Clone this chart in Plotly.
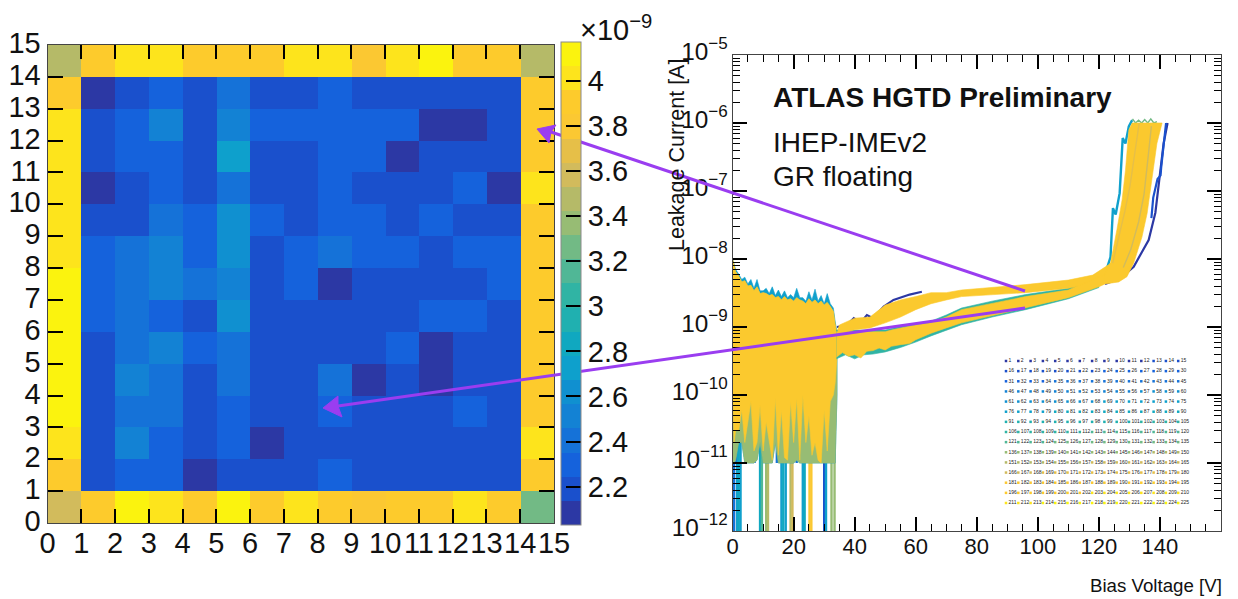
import plotly.graph_objects as go

# ---------- left panel: leakage current map, units of 1e-9 A, row 0 at the bottom ----------
map_row_00 = [3.6, 3.9, 4.1, 4.0, 3.9, 4.1, 3.9, 4.0, 3.9, 3.75, 3.9, 3.9, 4.0, 3.9, 3.3]
map_row_01 = [3.9, 2.2, 2.3, 2.3, 2.1, 2.2, 2.2, 2.2, 2.3, 2.2, 2.2, 2.2, 2.2, 2.2, 3.9]
map_row_02 = [4.0, 2.2, 2.5, 2.3, 2.2, 2.3, 2.1, 2.2, 2.2, 2.2, 2.2, 2.2, 2.2, 2.2, 4.0]
map_row_03 = [4.1, 2.2, 2.4, 2.4, 2.2, 2.3, 2.2, 2.2, 2.3, 2.2, 2.2, 2.2, 2.3, 2.2, 3.9]
map_row_04 = [4.1, 2.2, 2.5, 2.4, 2.2, 2.4, 2.2, 2.2, 2.4, 2.1, 2.2, 2.1, 2.2, 2.2, 3.9]
map_row_05 = [4.1, 2.2, 2.4, 2.5, 2.3, 2.4, 2.2, 2.2, 2.2, 2.2, 2.3, 2.1, 2.2, 2.2, 3.9]
map_row_06 = [4.1, 2.3, 2.4, 2.3, 2.2, 2.6, 2.2, 2.2, 2.2, 2.2, 2.2, 2.3, 2.3, 2.2, 3.9]
map_row_07 = [4.1, 2.3, 2.4, 2.5, 2.4, 2.5, 2.2, 2.3, 2.1, 2.2, 2.2, 2.2, 2.2, 2.3, 3.9]
map_row_08 = [4.0, 2.3, 2.4, 2.5, 2.3, 2.6, 2.2, 2.3, 2.4, 2.3, 2.3, 2.2, 2.3, 2.3, 3.9]
map_row_09 = [4.0, 2.2, 2.2, 2.4, 2.3, 2.6, 2.3, 2.2, 2.3, 2.3, 2.2, 2.3, 2.2, 2.2, 3.9]
map_row_10 = [4.0, 2.1, 2.2, 2.3, 2.2, 2.4, 2.2, 2.2, 2.3, 2.2, 2.2, 2.2, 2.3, 2.1, 4.0]
map_row_11 = [4.0, 2.2, 2.3, 2.3, 2.2, 2.75, 2.2, 2.2, 2.3, 2.3, 2.1, 2.2, 2.2, 2.2, 3.9]
map_row_12 = [4.0, 2.2, 2.3, 2.5, 2.2, 2.5, 2.3, 2.3, 2.3, 2.3, 2.3, 2.1, 2.1, 2.2, 3.9]
map_row_13 = [3.9, 2.1, 2.2, 2.3, 2.2, 2.4, 2.2, 2.2, 2.3, 2.2, 2.2, 2.2, 2.2, 2.2, 3.9]
map_row_14 = [3.48, 3.9, 4.0, 4.0, 3.9, 3.9, 3.9, 4.0, 4.0, 3.75, 4.0, 4.1, 3.9, 3.9, 3.48]
map_rows = [map_row_00, map_row_01, map_row_02, map_row_03, map_row_04,
            map_row_05, map_row_06, map_row_07, map_row_08, map_row_09,
            map_row_10, map_row_11, map_row_12, map_row_13, map_row_14]
map_centres = [i + 0.5 for i in range(15)]
z_low, z_high = 2.03, 4.172

band_colours = ["#2c38a4", "#1a50cc", "#1562dc", "#1572d8", "#1382d4", "#1090d0",
                "#0ea0cc", "#10a8c0", "#20b0b0", "#30b4a4", "#50b796", "#72ba85",
                "#97bc74", "#b5ba68", "#d2bb5c", "#e6bf48", "#fbc832", "#fdcb2c",
                "#fde41c", "#fbf30e"]

# ---------- right panel: I-V curves ----------
noise_v = [0, 0.5, 1, 2, 3, 4, 5, 6, 7, 8, 9, 10, 11, 12, 13, 14, 15, 16, 17, 18, 19, 20,
           21, 22, 23, 24, 25, 26, 27, 28, 29, 30, 31, 32, 33, 33.6, 34.2]
noise_top_teal = [1e-8, 8.6e-9, 7e-9, 6e-9, 5e-9, 5.4e-9, 4.3e-9, 5e-9, 3.7e-9, 5e-9, 3.4e-9,
                  3.4e-9, 3.7e-9, 3.1e-9, 3.9e-9, 2.9e-9, 3.5e-9, 2.8e-9, 3.4e-9, 2.7e-9, 3e-9,
                  2.7e-9, 3.7e-9, 2.7e-9, 2.7e-9, 2.4e-9, 3.3e-9, 2.5e-9, 3.6e-9, 2.4e-9, 2.9e-9,
                  2.2e-9, 3.1e-9, 2.2e-9, 1.9e-9, 1.2e-9, 8.5e-10]
noise_top_gold = [1e-8, 8e-9, 6.5e-9, 5.6e-9, 4.6e-9, 4.8e-9, 4e-9, 4.1e-9, 3.4e-9, 3.9e-9, 3.1e-9,
                  3.2e-9, 3.1e-9, 2.9e-9, 3e-9, 2.7e-9, 2.8e-9, 2.5e-9, 2.8e-9, 2.5e-9, 2.6e-9,
                  2.4e-9, 2.7e-9, 2.5e-9, 2.4e-9, 2.2e-9, 2.6e-9, 2.3e-9, 2.5e-9, 2.2e-9, 2.4e-9,
                  2.1e-9, 2.3e-9, 2e-9, 1.7e-9, 1.1e-9, 8e-10]
noise_low_gold = [1.5e-10, 2e-11, 3e-11, 3e-11, 6e-11, 2e-11, 4e-11, 8e-11, 1.5e-11, 2e-11, 7e-11,
                  1.5e-11, 4e-11, 2e-11, 1.1e-11, 9e-11, 1.3e-11, 6e-11, 1.2e-11, 1.1e-11, 8e-11,
                  2e-11, 9e-11, 1.1e-11, 1e-10, 2e-11, 5e-11, 1.3e-11, 2e-11, 1.1e-11, 1e-11,
                  6e-11, 1.5e-11, 8e-11, 1e-10, 1.5e-10, 3.6e-10]
noise_low_olive = [1e-11, 1e-11, 1.1e-11, 2e-11, 2e-11, 1e-11, 1e-11, 1e-11, 1e-11, 1.1e-11, 2e-11,
                   1e-11, 1e-11, 1e-11, 1e-11, 2e-11, 1e-11, 1e-11, 1e-11, 1e-11, 1e-11,
                   1e-11, 1.1e-11, 1e-11, 1e-11, 1e-11, 1e-11, 1e-11, 1e-11, 1e-11, 1e-11,
                   1e-11, 1e-11, 1e-11, 1e-11, 1e-11, 1e-10]

spike_v = [0.5, 1.5, 2.0, 2.6, 9.0, 9.6, 11.0, 11.6, 16.0, 16.6, 17.4, 19.0, 19.6, 23.0, 23.6, 25.2, 25.8, 30.0, 30.6, 32.4, 33.4]
spike_colours = ["#1572d8", "#10a0cc", "#10a8c0", "#10a0cc", "#10a8c0", "#50b796", "#97bc74", "#b5ba68",
                 "#10a0cc", "#10a8c0", "#10a0cc", "#b5ba68", "#d2bb5c", "#10a0cc", "#10a8c0", "#fbc832",
                 "#fbc832", "#1a50cc", "#10a0cc", "#97bc74", "#97bc74"]
step_v = [1.0, 4.6, 5.6, 7.2, 12.6, 14.5, 21.0, 27.5, 29.0]
step_top = [1e-10, 3e-11, 3e-11, 2e-11, 2e-11, 2e-11, 3e-11, 3e-11, 3e-11]

upper_v = [34.4, 35, 40, 45, 50, 55, 60, 65, 70, 75, 96, 110, 118, 122, 124]
upper_top = [9e-10, 1.07e-9, 1.35e-9, 1.4e-9, 2.1e-9, 2.5e-9, 2.8e-9, 3.2e-9, 3.2e-9, 3.5e-9, 4.2e-9, 4.9e-9, 5.8e-9, 7.6e-9, 8.7e-9]
upper_bot = [7.8e-10, 8.1e-10, 9.1e-10, 9.7e-10, 1.15e-9, 1.4e-9, 1.8e-9, 2.2e-9, 2.5e-9, 2.8e-9, 3.2e-9, 3.7e-9, 4.4e-9, 5.2e-9, 5.8e-9]

lower_v = [34, 36, 38, 40, 42, 44, 46, 48, 50, 52, 55, 58, 60, 65, 70, 75, 96, 110, 120, 122]
lower_top = [8.5e-10, 8.5e-10, 8.5e-10, 8.5e-10, 8.5e-10, 8.5e-10, 8.5e-10, 8.5e-10, 8.5e-10, 9e-10, 9.7e-10, 1.03e-9, 1.07e-9, 1.15e-9, 1.4e-9, 1.8e-9, 2.8e-9, 3.5e-9, 5.5e-9, 5.8e-9]
lower_bot = [3.6e-10, 4.2e-10, 3.7e-10, 3.9e-10, 3.5e-10, 4.4e-10, 4.5e-10, 4.9e-10, 4.6e-10, 5.2e-10, 5.5e-10, 5.7e-10, 6.5e-10, 8.1e-10, 9.7e-10, 1.15e-9, 1.9e-9, 2.7e-9, 3.9e-9, 4.3e-9]

knee_left_v = [122, 123.8, 125.9, 127.6, 128.7, 129.8, 130.9]
knee_left_i = [6e-9, 8.7e-9, 2.7e-8, 7.4e-8, 2.0e-7, 7.9e-7, 1.0e-6]
knee_right_v = [140.7, 139.0, 137.4, 135.8, 134.1, 131.4, 129.2, 126.5, 122]
knee_right_i = [1.0e-6, 5.0e-7, 1.6e-7, 4.7e-8, 2.1e-8, 8.7e-9, 5.5e-9, 4.6e-9, 4.3e-9]

dark_right_v = [122, 127, 131.4, 134.1, 136.3, 138.5, 139.8, 141.2, 142.5]
dark_right_i = [4.3e-9, 5.2e-9, 7.7e-9, 1.3e-8, 1.9e-8, 4.8e-8, 1.6e-7, 5e-7, 1e-6]
dark_loop_v = [137.2, 137.8, 139.2, 140.2, 140.4, 141.0, 141.6, 142.0]
dark_loop_i = [4e-8, 8e-8, 1.5e-7, 1.7e-7, 2.2e-7, 4e-7, 8e-7, 1e-6]
teal_left_v = [122.5, 123.8, 124.6, 125.5, 126.8, 127.8, 128.7, 129.8, 130.9]
teal_left_i = [7e-9, 1.07e-8, 5.6e-8, 4.5e-8, 9.3e-8, 6e-7, 5e-7, 8.9e-7, 1.1e-6]
dark_upper_v = [34.2, 37.5, 39.7, 41.8, 44, 46, 49.5, 52.7, 58, 62]
dark_upper_i = [1.0e-9, 1.07e-9, 1.35e-9, 1.15e-9, 1.5e-9, 1.35e-9, 2e-9, 2.5e-9, 3e-9, 3.3e-9]
teal_lower_v = [34, 37, 40, 43, 46, 50, 55, 60, 65, 70, 75, 85, 96, 110, 120]
teal_lower_i = [3.4e-10, 3.9e-10, 3.4e-10, 3.9e-10, 4e-10, 4.3e-10, 5e-10, 6e-10, 7.4e-10, 9e-10, 1.08e-9, 1.4e-9, 1.8e-9, 2.6e-9, 3.8e-9]
teal_lower_top_i = [9e-10, 9e-10, 9e-10, 9e-10, 9e-10, 9e-10, 1.02e-9, 1.12e-9, 1.22e-9, 1.5e-9, 1.9e-9, 2.4e-9, 3e-9, 3.7e-9, 5.8e-9]
top_fringe_v = [131, 132, 133, 134, 135, 136, 137, 138, 139]
top_fringe_i = [1.15e-6, 1e-6, 1.1e-6, 1e-6, 1.12e-6, 1e-6, 1.15e-6, 1e-6, 1.05e-6]
streak_a_v = [124.5, 126.5, 128.5, 130.2, 131.8, 133.2]
streak_a_i = [8.7e-9, 2e-8, 5e-8, 1.2e-7, 3.5e-7, 1e-6]
streak_b_v = [128, 130.5, 133, 134.8, 136, 137.2]
streak_b_i = [7.5e-9, 1.4e-8, 3.5e-8, 9e-8, 2.8e-7, 9e-7]

sensor_ids = list(range(1, 226))

# ---------- page layout, in pixels ----------
W, H = 1238, 599
FONT = "Liberation Sans"
GOLD = "#fbc92e"
PURPLE = "#9a3df0"
INK = "#000000"


def fx(p):
    return p / W


def fy(p):
    return 1 - p / H


fig = go.Figure()

stepped = []
n_bands = len(band_colours)
for k, c in enumerate(band_colours):
    stepped.append([k / n_bands, c])
    stepped.append([(k + 1) / n_bands, c])

fig.add_trace(go.Heatmap(
    z=map_rows, x=map_centres, y=map_centres, zmin=z_low, zmax=z_high,
    colorscale=stepped, xaxis="x", yaxis="y", hoverinfo="skip",
    colorbar=dict(
        x=fx(561), xanchor="left", xpad=0, y=fy(525), yanchor="bottom", ypad=0,
        len=483, lenmode="pixels", thickness=20, thicknessmode="pixels",
        tickmode="linear", tick0=2.2, dtick=0.2,
        ticks="inside", ticklen=15, tickcolor=INK, tickwidth=1.6,
        outlinecolor="#8a8a8a", outlinewidth=1,
        tickfont=dict(family=FONT, size=29, color="#111"),
    ),
))


def poly(xs_up, ys_up, xs_dn, ys_dn, colour):
    fig.add_trace(go.Scatter(
        x=list(xs_up) + list(xs_dn)[::-1], y=list(ys_up) + list(ys_dn)[::-1],
        mode="lines", line=dict(width=0.6, color=colour), fill="toself", fillcolor=colour,
        xaxis="x2", yaxis="y2", hoverinfo="skip", showlegend=False))


def curve(xs, ys, colour, width):
    fig.add_trace(go.Scatter(x=xs, y=ys, mode="lines", line=dict(width=width, color=colour),
                             xaxis="x2", yaxis="y2", hoverinfo="skip", showlegend=False))


# spikes down to the axis floor
for v, c in zip(spike_v, spike_colours):
    curve([v, v], [2.5e-11, 1e-12], c, 2.4)
for v, t in zip(step_v, step_top):
    curve([v, v], [t, 1e-11], "#1572d8", 2.4)

poly(noise_v, noise_top_teal, noise_v, noise_low_olive, "#10a0cc")
poly(noise_v, noise_top_gold, noise_v, noise_low_olive, "#97bc74")
poly(noise_v, noise_top_gold, noise_v, noise_low_gold, GOLD)

# teal/dark fringes of the bands, then the gold bands
poly(teal_lower_v, teal_lower_top_i, teal_lower_v, teal_lower_i, "#30b4a4")
curve(dark_upper_v, dark_upper_i, "#2c38a4", 2.2)
curve(dark_right_v, dark_right_i, "#2c38a4", 2.2)
curve(dark_loop_v, dark_loop_i, "#1a50cc", 2.2)
curve(teal_left_v, teal_left_i, "#10a0cc", 2.4)
curve(top_fringe_v, top_fringe_i, "#72ba85", 1.4)
poly(upper_v, upper_top, upper_v, upper_bot, GOLD)
poly(lower_v, lower_top, lower_v, lower_bot, GOLD)
poly(knee_left_v, knee_left_i, knee_right_v[::-1], knee_right_i[::-1], GOLD)
curve(streak_a_v, streak_a_i, "#e6bf48", 1.4)
curve(streak_b_v, streak_b_i, "#d2bb5c", 1.4)

# sensor legend, fifteen by fifteen
cols = [(n - 1) % 15 for n in sensor_ids]
rows = [(n - 1) // 15 for n in sensor_ids]
fig.add_trace(go.Scatter(
    x=cols, y=rows, mode="markers+text", text=[str(n) for n in sensor_ids],
    textposition="middle right", textfont=dict(family=FONT, size=5, color="#222"),
    marker=dict(symbol="square", size=2.5, color=sensor_ids, colorscale=stepped, showscale=False),
    xaxis="x3", yaxis="y3", hoverinfo="skip", showlegend=False, cliponaxis=False))

frame = dict(showline=True, linecolor="#444", linewidth=1, mirror="allticks", ticks="inside",
             tickcolor=INK, tickwidth=1.6, showgrid=False, zeroline=False)

layout = dict(
    width=W, height=H, margin=dict(l=0, r=0, t=0, b=0, pad=0, autoexpand=False),
    paper_bgcolor="white", plot_bgcolor="white", showlegend=False,
    font=dict(family=FONT, color="#111"),
    xaxis=dict(domain=[fx(47.5), fx(554)], range=[0, 15], tickmode="linear", tick0=0, dtick=1, ticklen=14,
               tickangle=0, tickfont=dict(size=29), anchor="y", ticklabelstandoff=-6, **frame),
    yaxis=dict(domain=[fy(523), fy(45)], range=[0, 15], tickmode="linear", tick0=0, dtick=1, ticklen=15,
               tickfont=dict(size=29), anchor="x", ticklabelshift=-2, **frame),
    xaxis2=dict(domain=[fx(732.6), fx(1221)], range=[0, 160], tickmode="linear", tick0=0, dtick=20, ticklen=14,
                tickangle=0, tickfont=dict(size=22), anchor="y2", ticklabelstandoff=-4,
                minor=dict(ticks="inside", ticklen=7, dtick=5, tickcolor=INK, tickwidth=1), **frame),
    yaxis2=dict(domain=[fy(531), fy(55)], type="log", range=[-12, -5], dtick=1, exponentformat="power", ticklen=14,
                tickfont=dict(size=19.5), anchor="x2", ticklabelshift=-4,
                minor=dict(ticks="inside", ticklen=7, dtick="D1", tickcolor=INK, tickwidth=1), **frame),
    xaxis3=dict(domain=[fx(1006), fx(1178.2)], range=[0, 14], visible=False, anchor="y3"),
    yaxis3=dict(domain=[fy(503), fy(361)], range=[14, 0], visible=False, anchor="x3"),
)

notes = [
    dict(text="ATLAS HGTD Preliminary", x=771, y=97, size=28, bold=True),
    dict(text="IHEP-IMEv2", x=771, y=143, size=28),
    dict(text="GR floating", x=771, y=177, size=28),
    dict(text="×10<sup>−9</sup>", x=578, y=28, size=29),
]
ann = []
for n in notes:
    t = f"<b>{n['text']}</b>" if n.get("bold") else n["text"]
    ann.append(dict(text=t, xref="paper", yref="paper", x=fx(n["x"]), y=fy(n["y"]), xanchor="left",
                    yanchor="middle", showarrow=False, font=dict(family=FONT, size=n["size"], color="#111")))
ann.append(dict(text="Leakage Current [A]", xref="paper", yref="paper", x=fx(677), y=fy(155), textangle=-90,
                xanchor="center", yanchor="middle", showarrow=False, font=dict(family=FONT, size=21.5, color="#111")))
ann.append(dict(text="Bias Voltage [V]", xref="paper", yref="paper", x=fx(1224), y=fy(585), xanchor="right",
                yanchor="middle", showarrow=False, font=dict(family=FONT, size=18.7, color="#111")))
layout["annotations"] = ann

# purple arrows across both panels: shaft plus notched head, in page pixels
shapes = []
for tip, barb_a, notch, barb_b, tail in [
    ((537, 129), (556, 125), (551, 132), (549, 143), (1025, 291)),
    ((323, 408), (338, 396), (338, 406), (342, 417), (1025, 308)),
]:
    shapes.append(dict(type="line", xref="paper", yref="paper", x0=fx(notch[0]), y0=fy(notch[1]),
                       x1=fx(tail[0]), y1=fy(tail[1]), line=dict(color=PURPLE, width=3), layer="above"))
    pts = [tip, barb_a, notch, barb_b]
    path = "M " + " L ".join(f"{fx(a):.5f} {fy(b):.5f}" for a, b in pts) + " Z"
    shapes.append(dict(type="path", xref="paper", yref="paper", path=path,
                       fillcolor=PURPLE, line=dict(color=PURPLE, width=1), layer="above"))
layout["shapes"] = shapes

fig.update_layout(**layout)
fig.write_html("out.html", config={"displayModeBar": False},
               post_script="document.body.style.margin='0';")
